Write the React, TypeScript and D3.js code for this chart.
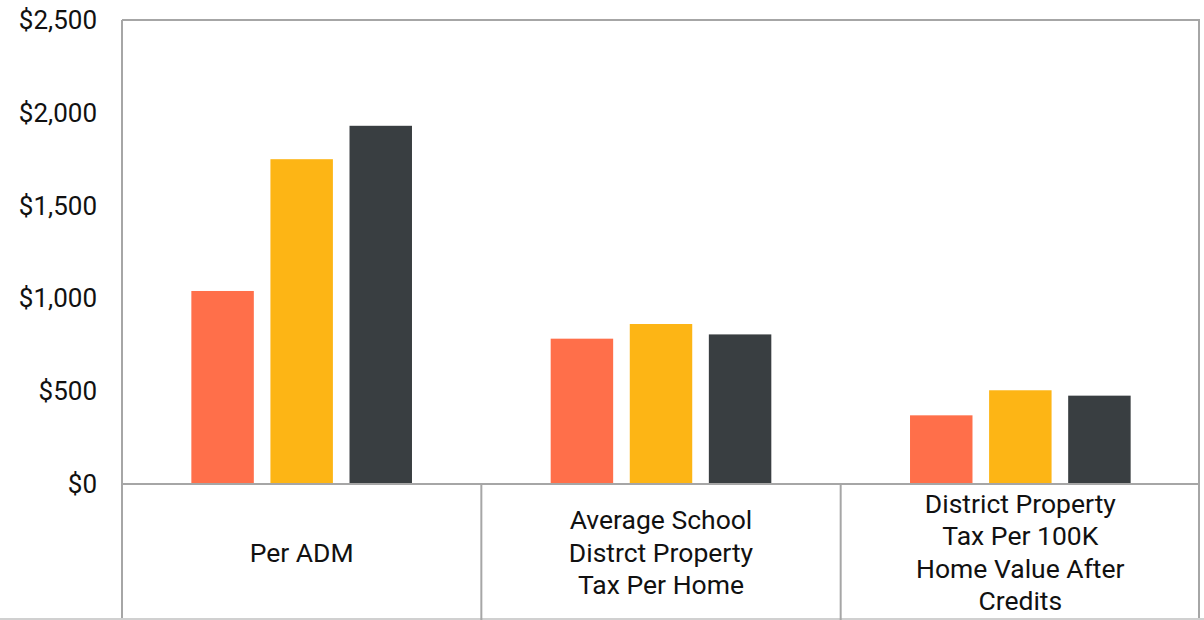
import React from "react";
import * as d3 from "d3";

const categories = [
  "Per ADM",
  "Average School\nDistrct Property\nTax Per Home",
  "District Property\nTax Per 100K\nHome Value After\nCredits",
];
const seriesNames = ["A", "B", "C"];
const seriesA = [1040, 783, 370];
const seriesB = [1750, 862, 505];
const seriesC = [1930, 806, 476];
const yTicks = [0, 500, 1000, 1500, 2000, 2500];
const colors = ["#FF6F4A", "#FDB515", "#393E41"];

const W = 1204;
const H = 620;
const left = 122;
const right = 1200;
const top = 20;
const base = 484;
const bottom = 619;

export default function App() {
  const values = [seriesA, seriesB, seriesC];
  const y = d3.scaleLinear().domain([0, 2500]).range([base, top]);
  const x0 = d3.scaleBand<string>().domain(categories).range([left, right]).padding(0);
  const x1 = d3
    .scaleBand<string>()
    .domain(seriesNames)
    .range([0, x0.bandwidth()])
    .paddingInner(0.21)
    .paddingOuter(0.877);
  const fmt = (v: number) => "$" + d3.format(",")(v);
  const lineColor = "#A6A6A6";
  const font = "Roboto, sans-serif";
  const lh = 32.5;

  return (
    <svg
      width={W}
      height={H}
      style={{ position: "absolute", left: 0, top: 0, background: "#fff" }}
      fontFamily={font}
    >
      <rect x={0} y={0} width={W} height={H} fill="#fff" />
      {categories.map((c, ci) =>
        seriesNames.map((s, si) => (
          <rect
            key={c + s}
            x={(x0(c) as number) + (x1(s) as number)}
            y={y(values[si][ci])}
            width={x1.bandwidth()}
            height={base - y(values[si][ci])}
            fill={colors[si]}
          />
        ))
      )}
      <line x1={left} x2={right} y1={top} y2={top} stroke={lineColor} strokeWidth={2} />
      <line x1={right - 1} x2={right - 1} y1={top} y2={H} stroke={lineColor} strokeWidth={2} />
      <line x1={left} x2={left} y1={top} y2={H} stroke={lineColor} strokeWidth={2} />
      <line x1={left} x2={right} y1={base} y2={base} stroke={lineColor} strokeWidth={2} />
      <line x1={0} x2={W} y1={bottom} y2={bottom} stroke="#D0D0D0" strokeWidth={2} />
      {categories.slice(1).map((c) => (
        <line
          key={"d" + c}
          x1={x0(c) as number}
          x2={x0(c) as number}
          y1={base}
          y2={H}
          stroke={lineColor}
          strokeWidth={2}
        />
      ))}
      {yTicks.map((t) => (
        <text
          key={t}
          x={97}
          y={y(t)}
          textAnchor="end"
          dominantBaseline="central"
          fontSize={26}
          fill="#111"
        >
          {fmt(t)}
        </text>
      ))}
      {categories.map((c) => {
        const lines = c.split("\n");
        const cx = (x0(c) as number) + x0.bandwidth() / 2;
        const cy = (base + H) / 2;
        const startY = cy - ((lines.length - 1) * lh) / 2;
        return (
          <text key={"l" + c} textAnchor="middle" fontSize={26.5} fill="#111">
            {lines.map((ln, i) => (
              <tspan key={i} x={cx} y={startY + i * lh} dominantBaseline="central">
                {ln}
              </tspan>
            ))}
          </text>
        );
      })}
    </svg>
  );
}
